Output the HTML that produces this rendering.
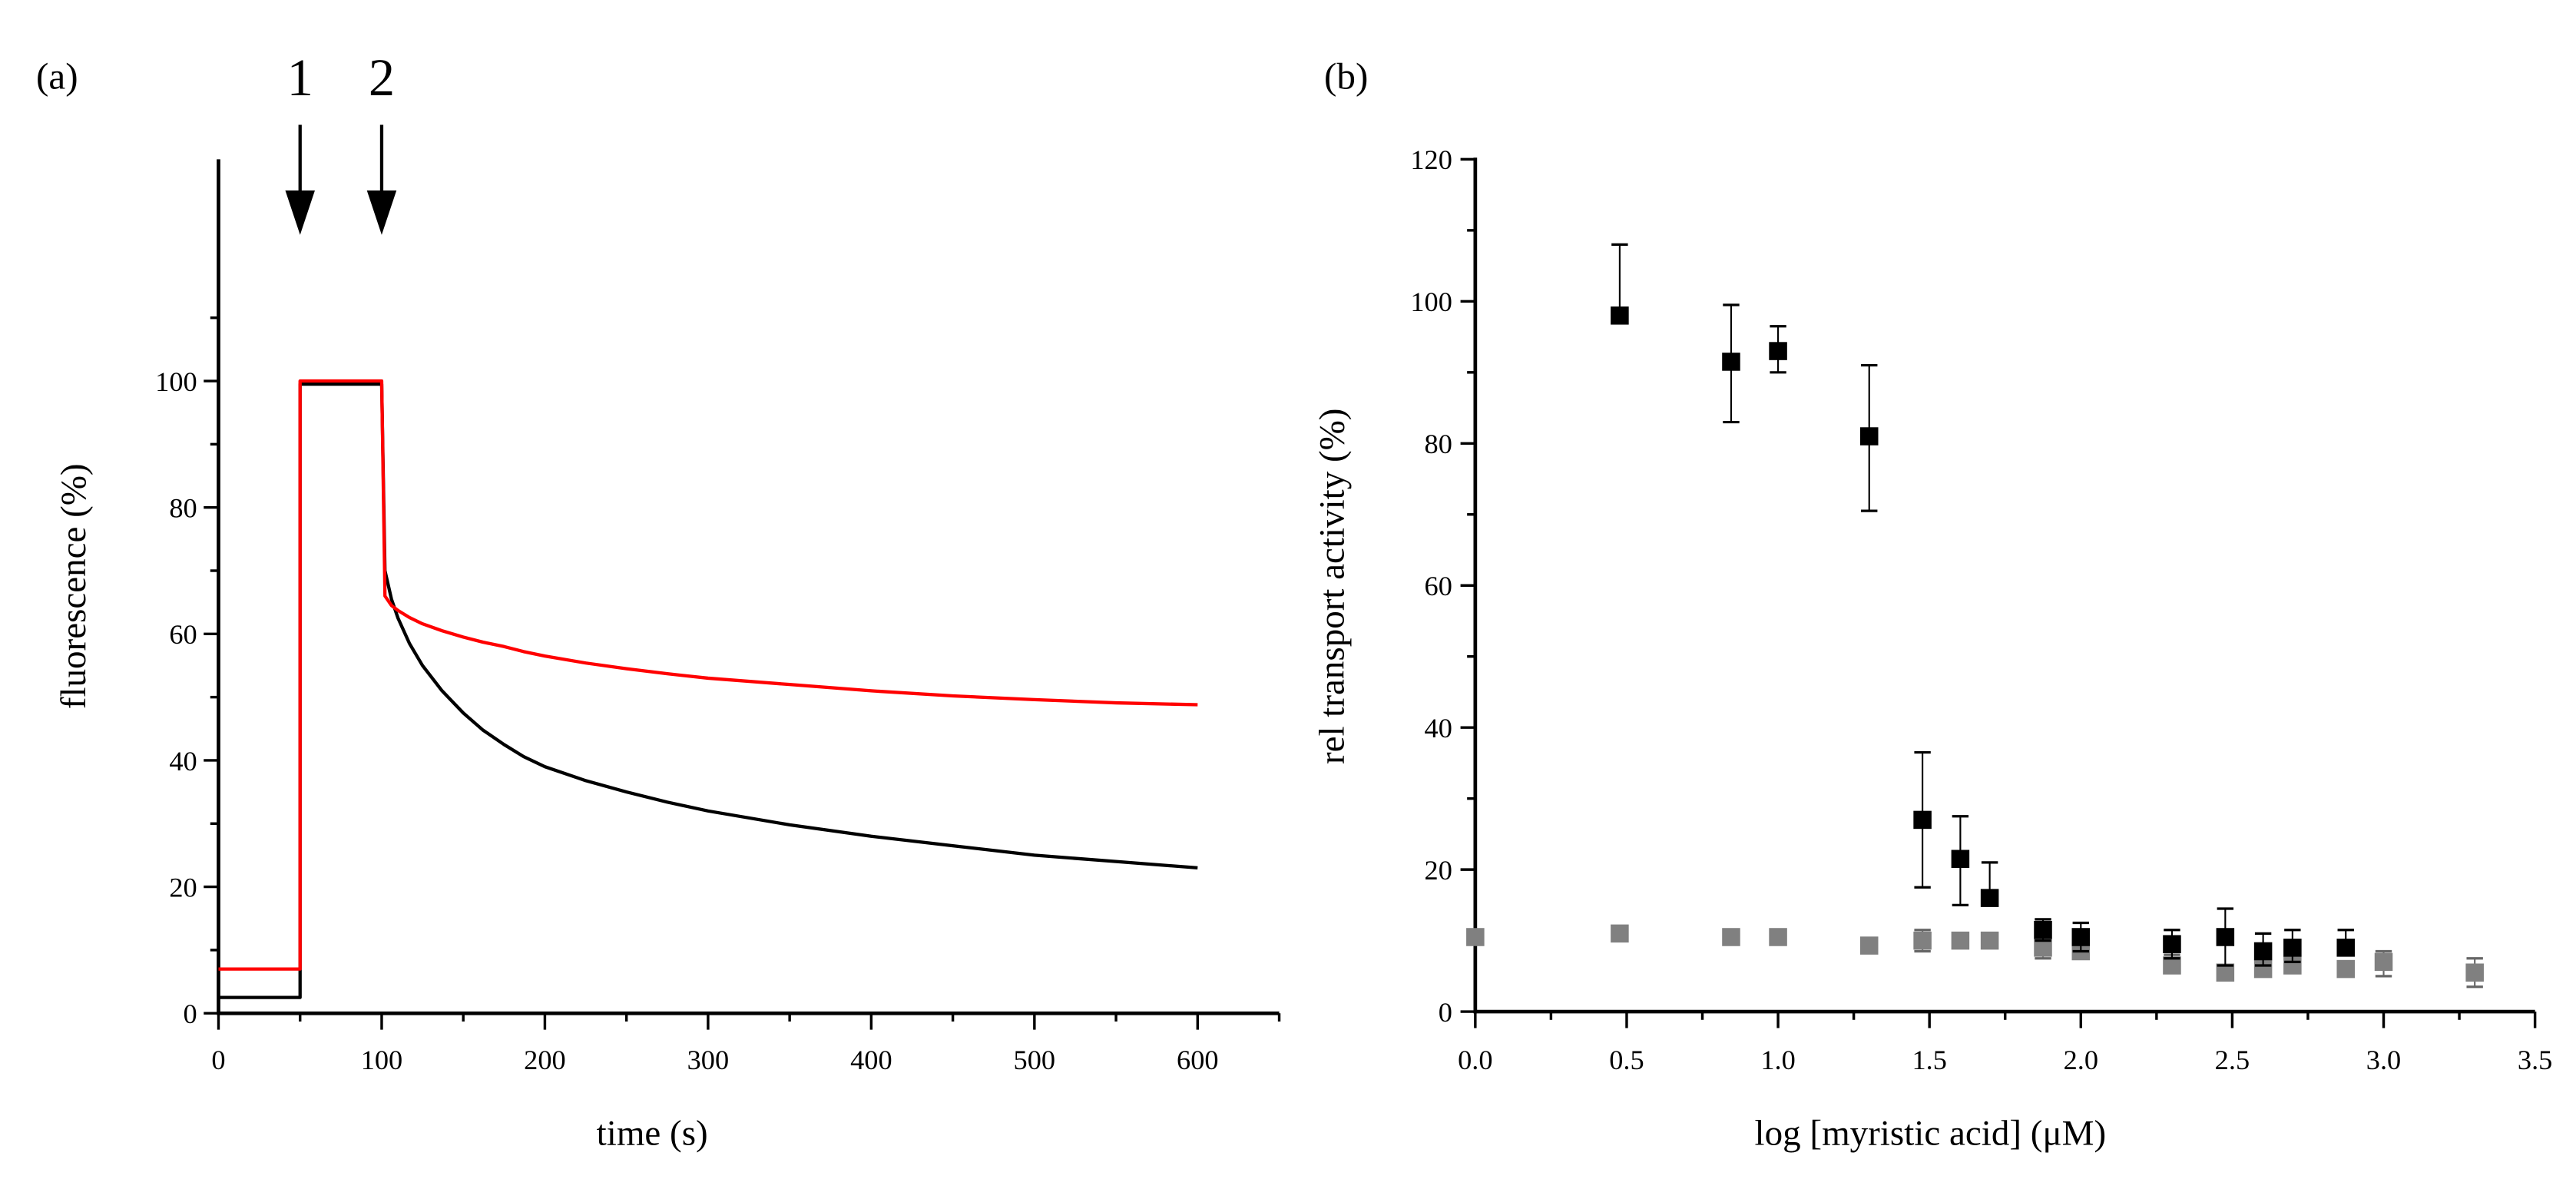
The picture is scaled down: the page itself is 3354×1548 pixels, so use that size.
<!DOCTYPE html>
<html><head><meta charset="utf-8"><style>
html,body{margin:0;padding:0;background:#fff;}
svg{display:block;font-family:"Liberation Serif",serif;}
</style></head><body>
<svg id="fig" width="3354" height="1548" viewBox="0 0 1568 724" preserveAspectRatio="none">
<g id="pa"></g>
<g id="pb"></g>
</svg>
<script>
// Panel (a) data
const stepTimes = [0, 50, 50, 100];
const blackStep = [2.5, 2.5, 99.5, 99.5];
const redStep = [7, 7, 100, 100];
const decayTimes = [100, 102, 106, 110, 117, 125, 137, 150, 162, 175, 187, 200, 225, 250, 275, 300, 350, 400, 450, 500, 550, 600];
const blackDecay = [99.5, 70, 65.5, 62.5, 58.5, 55, 51, 47.5, 44.8, 42.5, 40.6, 39, 36.8, 35, 33.4, 32, 29.8, 28, 26.5, 25, 24, 23];
const redDecay = [100, 66, 64.5, 63.7, 62.6, 61.6, 60.5, 59.5, 58.7, 58, 57.2, 56.5, 55.4, 54.5, 53.7, 53, 52, 51, 50.2, 49.6, 49.1, 48.8];
const aXTicks = [0, 100, 200, 300, 400, 500, 600];
const aYTicks = [0, 20, 40, 60, 80, 100];
// Panel (b) data
const bX = [0.477, 0.845, 1.0, 1.301, 1.477, 1.602, 1.699, 1.875, 2.0, 2.301, 2.477, 2.602, 2.699, 2.875];
const bBlack = [98, 91.5, 93, 81, 27, 21.5, 16, 11.5, 10.5, 9.5, 10.5, 8.5, 9, 9];
const bBlackLo = [98, 83, 90, 70.5, 17.5, 15, 16, 10, 8.5, 7.5, 6.5, 6.5, 7, 9];
const bBlackHi = [108, 99.5, 96.5, 91, 36.5, 27.5, 21, 13, 12.5, 11.5, 14.5, 11, 11.5, 11.5];
const gX = [0, 0.477, 0.845, 1.0, 1.301, 1.477, 1.602, 1.699, 1.875, 2.0, 2.301, 2.477, 2.602, 2.699, 2.875, 3.0, 3.301];
const bGray = [10.5, 11, 10.5, 10.5, 9.3, 10, 10, 10, 9, 8.5, 6.5, 5.5, 6, 6.5, 6, 7, 5.5];
const bGrayLo = [10.5, 11, 10.5, 10.5, 9.3, 8.5, 10, 10, 7.5, 7.5, 5.5, 5.5, 6, 6.5, 6, 5, 3.5];
const bGrayHi = [10.5, 11, 10.5, 10.5, 9.3, 11.5, 10, 10, 10.5, 8.5, 8, 5.5, 6, 6.5, 6, 8.5, 7.5];
const bXTicks = [0, 0.5, 1.0, 1.5, 2.0, 2.5, 3.0, 3.5];
const bYTicks = [0, 20, 40, 60, 80, 100, 120];

const NS = "http://www.w3.org/2000/svg";
function mk(parent, tag, attrs, text) {
  const e = document.createElementNS(NS, tag);
  for (const k in attrs) e.setAttribute(k, attrs[k]);
  if (text !== undefined) e.textContent = text;
  parent.appendChild(e);
  return e;
}
const pa = document.getElementById('pa');
const pb = document.getElementById('pb');

// ---- Panel a ----
const ax = t => 133 + t * 0.9933;
const ay = v => 617 - v * 3.85;
let e;
e = mk(pa, 'line', {x1: 133, y1: 97, x2: 133, y2: 617, stroke: '#000', 'stroke-width': 2.2});
 
e = mk(pa, 'line', {x1: 132, y1: 617, x2: ax(650), y2: 617, stroke: '#000', 'stroke-width': 2.2});
 
for (let v = 0; v <= 110; v += 10) {
  const major = v % 20 === 0;
  e = mk(pa, 'line', {x1: 133, y1: ay(v), x2: major ? 124 : 128, y2: ay(v), stroke: '#000', 'stroke-width': 1.6});
   
}
aYTicks.forEach(v => {
  e = mk(pa, 'text', {x: 120, y: ay(v) + 6, 'text-anchor': 'end', 'font-size': 17}, String(v));
   
});
for (let t = 0; t <= 650; t += 50) {
  const major = t % 100 === 0;
  e = mk(pa, 'line', {x1: ax(t), y1: 617, x2: ax(t), y2: major ? 627 : 622, stroke: '#000', 'stroke-width': 1.6});
   
}
aXTicks.forEach(t => {
  e = mk(pa, 'text', {x: ax(t), y: 651, 'text-anchor': 'middle', 'font-size': 17}, String(t));
   
});
function series(times, vals) { return times.map((t, i) => ax(t).toFixed(2) + ',' + ay(vals[i]).toFixed(2)).join(' '); }
e = mk(pa, 'polyline', {points: series(stepTimes.concat(decayTimes), blackStep.concat(blackDecay)), fill: 'none', stroke: '#000', 'stroke-width': 2, 'stroke-linejoin': 'round'});
 
e = mk(pa, 'polyline', {points: series(stepTimes.concat(decayTimes), redStep.concat(redDecay)), fill: 'none', stroke: '#f00', 'stroke-width': 2, 'stroke-linejoin': 'round'});
 
e = mk(pa, 'text', {x: 397, y: 697, 'text-anchor': 'middle', 'font-size': 22}, 'time (s)');
 
e = mk(pa, 'text', {x: 0, y: 0, 'text-anchor': 'middle', 'font-size': 22, transform: 'translate(52,357) rotate(-90)'}, 'fluorescence (%)');
 
e = mk(pa, 'text', {x: 22, y: 54, 'font-size': 23}, '(a)');
 
[[50, '1'], [100, '2']].forEach(([t, lab]) => {
  const x = ax(t);
  e = mk(pa, 'text', {x: x, y: 58, 'text-anchor': 'middle', 'font-size': 32}, lab);
   
  e = mk(pa, 'line', {x1: x, y1: 76, x2: x, y2: 120, stroke: '#000', 'stroke-width': 2});
   
  e = mk(pa, 'polygon', {points: `${x-9},116 ${x+9},116 ${x},143`, fill: '#000'});
   
});

// ---- Panel b ----
const bx = v => 898 + v * 184.3;
const by = v => 616 - v * 4.325;
e = mk(pb, 'line', {x1: 898, y1: 96, x2: 898, y2: 617, stroke: '#000', 'stroke-width': 2.2});
 
e = mk(pb, 'line', {x1: 897, y1: 616, x2: bx(3.5), y2: 616, stroke: '#000', 'stroke-width': 2.2});
 
for (let v = 0; v <= 120; v += 10) {
  const major = v % 20 === 0;
  e = mk(pb, 'line', {x1: 898, y1: by(v), x2: major ? 889 : 893, y2: by(v), stroke: '#000', 'stroke-width': 1.6});
   
}
bYTicks.forEach(v => {
  e = mk(pb, 'text', {x: 884, y: by(v) + 6, 'text-anchor': 'end', 'font-size': 17}, String(v));
   
});
for (let k = 0; k <= 14; k++) {
  const v = k * 0.25, major = k % 2 === 0;
  e = mk(pb, 'line', {x1: bx(v), y1: 616, x2: bx(v), y2: major ? 626 : 621, stroke: '#000', 'stroke-width': 1.6});
   
}
bXTicks.forEach(v => {
  e = mk(pb, 'text', {x: bx(v), y: 651, 'text-anchor': 'middle', 'font-size': 17}, v.toFixed(1));
   
});
function drawPts(xs, ys, lo, hi, color, barColor, name) {
  xs.forEach((xv, i) => {
    const cx = bx(xv);
    if (hi[i] !== ys[i] || lo[i] !== ys[i]) {
      e = mk(pb, 'line', {x1: cx, y1: by(hi[i]), x2: cx, y2: by(lo[i]), stroke: barColor, 'stroke-width': 1});
       
      [hi[i], lo[i]].forEach(c => {
        e = mk(pb, 'line', {x1: cx - 5, y1: by(c), x2: cx + 5, y2: by(c), stroke: barColor, 'stroke-width': 1.5});
         
      });
    }
    e = mk(pb, 'rect', {x: cx - 5.5, y: by(ys[i]) - 5.5, width: 11, height: 11, fill: color});
     
  });
}
drawPts(gX, bGray, bGrayLo, bGrayHi, '#808080', '#666', 'gray');
drawPts(bX, bBlack, bBlackLo, bBlackHi, '#000', '#000', 'black');
e = mk(pb, 'text', {x: 1175, y: 697, 'text-anchor': 'middle', 'font-size': 22}, 'log [myristic acid] (\u03bcM)');
 
e = mk(pb, 'text', {x: 0, y: 0, 'text-anchor': 'middle', 'font-size': 22, transform: 'translate(818,357) rotate(-90)'}, 'rel transport activity (%)');
 
e = mk(pb, 'text', {x: 806, y: 54, 'font-size': 23}, '(b)');
 
</script>
</body></html>
